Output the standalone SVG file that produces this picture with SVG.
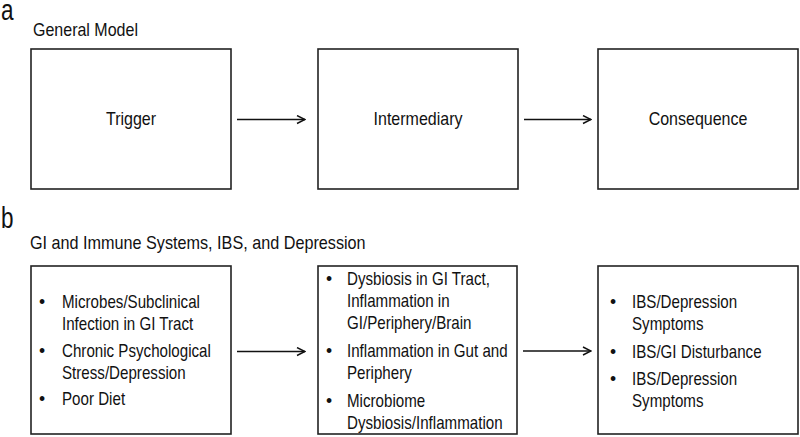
<svg xmlns="http://www.w3.org/2000/svg" width="800" height="437" viewBox="0 0 800 437">
<defs>
<style>
text{font-family:"Liberation Sans",Arial,sans-serif;fill:#111;font-size:17.5px;}
.h{font-size:18px;}
.panel{font-size:30px;}
.box{fill:#fff;stroke:#222;stroke-width:1.6;}
.mid{text-anchor:middle;}
.conn line{stroke:#111;stroke-width:1.4;}
</style>
<marker id="arr" viewBox="0 0 10 10" refX="9" refY="5" markerWidth="10" markerHeight="10" markerUnits="userSpaceOnUse" orient="auto">
<path d="M1,1 L9,5 L1,9" fill="none" stroke="#111" stroke-width="1.4"/>
</marker>
</defs>
<rect width="800" height="437" fill="#fff"/>
<text class="panel" transform="translate(1 20) scale(0.75 1)">a</text>
<text class="h" transform="translate(33 36) scale(0.89 1)">General Model</text>
<g id="trigger"><rect class="box" x="31" y="49" width="200" height="140"/><text class="mid h" transform="translate(131 125) scale(0.89 1)">Trigger</text></g>
<g id="intermediary"><rect class="box" x="318" y="49" width="200" height="140"/><text class="mid h" transform="translate(418 125) scale(0.89 1)">Intermediary</text></g>
<g id="consequence"><rect class="box" x="598" y="49" width="200" height="140"/><text class="mid h" transform="translate(698 125) scale(0.89 1)">Consequence</text></g>
<text class="panel" transform="translate(1 228) scale(0.75 1)">b</text>
<text class="h" transform="translate(30 249) scale(0.9 1)">GI and Immune Systems, IBS, and Depression</text>
<g id="causes"><rect class="box" x="31" y="266" width="200" height="168"/>
<text x="39" y="308">•</text><text transform="translate(62 308) scale(0.865 1)">Microbes/Subclinical</text><text transform="translate(62 330) scale(0.865 1)">Infection in GI Tract</text>
<text x="39" y="357">•</text><text transform="translate(62 357) scale(0.865 1)">Chronic Psychological</text><text transform="translate(62 379) scale(0.865 1)">Stress/Depression</text>
<text x="39" y="405">•</text><text transform="translate(62 405) scale(0.865 1)">Poor Diet</text>
</g>
<g id="mechanisms"><rect class="box" x="318" y="266" width="199" height="168"/>
<text x="326" y="285">•</text><text transform="translate(347 285) scale(0.865 1)">Dysbiosis in GI Tract,</text><text transform="translate(347 307) scale(0.865 1)">Inflammation in</text><text transform="translate(347 329) scale(0.865 1)">GI/Periphery/Brain</text>
<text x="326" y="357">•</text><text transform="translate(347 357) scale(0.865 1)">Inflammation in Gut and</text><text transform="translate(347 379) scale(0.865 1)">Periphery</text>
<text x="326" y="407">•</text><text transform="translate(347 407) scale(0.865 1)">Microbiome</text><text transform="translate(347 429) scale(0.865 1)">Dysbiosis/Inflammation</text>
</g>
<g id="outcomes"><rect class="box" x="598" y="266" width="200" height="168"/>
<text x="610" y="308">•</text><text transform="translate(632 308) scale(0.865 1)">IBS/Depression</text><text transform="translate(632 330) scale(0.865 1)">Symptoms</text>
<text x="610" y="358">•</text><text transform="translate(632 358) scale(0.865 1)">IBS/GI Disturbance</text>
<text x="610" y="385">•</text><text transform="translate(632 385) scale(0.865 1)">IBS/Depression</text><text transform="translate(632 407) scale(0.865 1)">Symptoms</text>
</g>
<g class="conn" id="connectors">
<line x1="237" y1="119.5" x2="305" y2="119.5" marker-end="url(#arr)"/>
<line x1="524" y1="119.5" x2="591" y2="119.5" marker-end="url(#arr)"/>
<line x1="237" y1="351.5" x2="305" y2="351.5" marker-end="url(#arr)"/>
<line x1="523" y1="351" x2="591" y2="351" marker-end="url(#arr)"/>
</g>
</svg>
